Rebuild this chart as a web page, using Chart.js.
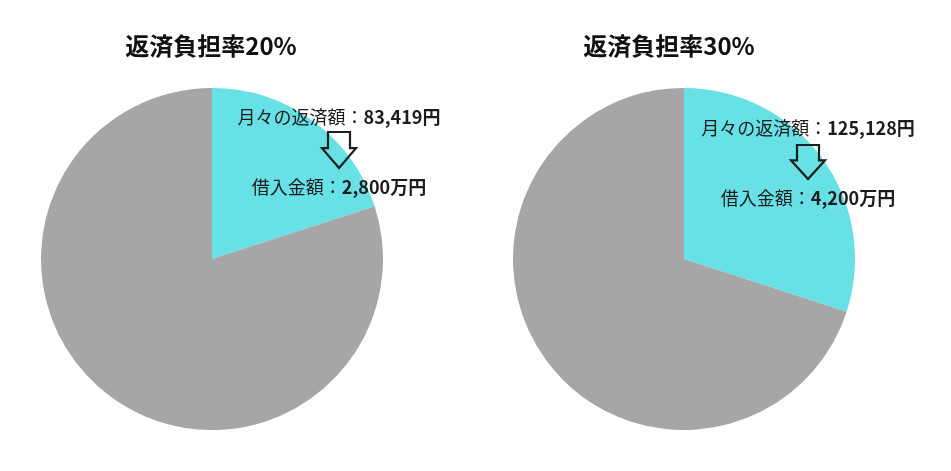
<!DOCTYPE html>
<html lang="ja">
<head>
<meta charset="utf-8">
<title>返済負担率</title>
<script src="https://cdn.jsdelivr.net/npm/chart.js@4.4.1/dist/chart.umd.min.js"></script>
<style>
  html, body { margin: 0; padding: 0; background: #fff; }
  #wrap { position: relative; width: 951px; height: 471px; }
  .box { position: absolute; top: 0; height: 471px; }
  #box1 { left: 0; width: 475px; }
  #box2 { left: 475px; width: 476px; }
</style>
</head>
<body>
<div id="wrap">
  <div class="box" id="box1"><canvas id="pie1"></canvas></div>
  <div class="box" id="box2"><canvas id="pie2"></canvas></div>
</div>
<script>
// data
const sliceLabels = ['返済額', 'その他'];
const titles = ['返済負担率20%', '返済負担率30%'];
const shares20 = [20, 80];
const shares30 = [30, 70];
const monthlyPayments = ['83,419', '125,128'];
const loanAmounts = ['2,800', '4,200'];

const FONT = '"Noto Sans CJK JP", "Noto Sans", sans-serif';
const colors = ['#67e1e6', '#a6a6a6'];

// draws a line made of [text, bold] parts, centred on x
function drawParts(ctx, parts, x, y, size) {
  let total = 0;
  parts.forEach(p => {
    ctx.font = (p[1] ? 'bold ' : '') + size + 'px ' + FONT;
    total += ctx.measureText(p[0]).width;
  });
  let cx = x - total / 2;
  parts.forEach(p => {
    ctx.font = (p[1] ? 'bold ' : '') + size + 'px ' + FONT;
    ctx.fillText(p[0], cx, y);
    cx += ctx.measureText(p[0]).width;
  });
}

const notesPlugin = {
  id: 'notes',
  afterDraw(chart, args, opts) {
    const ctx = chart.ctx;
    const a = chart.chartArea;
    const cx = (a.left + a.right) / 2;
    const cy = (a.top + a.bottom) / 2;
    ctx.save();
    ctx.textBaseline = 'middle';
    ctx.textAlign = 'left';
    ctx.fillStyle = '#111';
    // title
    ctx.font = 'bold 24px ' + FONT;
    const tw = ctx.measureText(opts.title).width;
    ctx.fillText(opts.title, opts.titleX - tw / 2, 46);

    ctx.fillStyle = '#1c1c1c';
    const nx = cx + opts.dx;
    drawParts(ctx, [['月々の返済額：', false], [opts.monthly + '円', true]], nx, cy + opts.y1, 18);
    drawParts(ctx, [['借入金額：', false], [opts.loan + '万円', true]], nx, cy + opts.y2, 18);

    // hollow down arrow
    const top = cy + opts.arrowTop, tip = cy + opts.arrowTip;
    const neck = top + (tip - top) * 0.45;
    ctx.beginPath();
    ctx.moveTo(nx - 11, top);
    ctx.lineTo(nx + 11, top);
    ctx.lineTo(nx + 11, neck);
    ctx.lineTo(nx + 17, neck);
    ctx.lineTo(nx, tip);
    ctx.lineTo(nx - 17, neck);
    ctx.lineTo(nx - 11, neck);
    ctx.closePath();
    ctx.lineWidth = 2.2;
    ctx.lineJoin = 'miter';
    ctx.strokeStyle = '#1a1f1f';
    ctx.stroke();
    ctx.restore();
  }
};

function makePie(id, values, pad, notes) {
  return new Chart(document.getElementById(id), {
    type: 'pie',
    data: {
      labels: sliceLabels,
      datasets: [{
        data: values,
        backgroundColor: colors,
        borderWidth: 0
      }]
    },
    options: {
      responsive: true,
      maintainAspectRatio: false,
      animation: false,
      layout: { padding: pad },
      plugins: {
        legend: { display: false },
        tooltip: { enabled: false },
        notes: notes
      }
    },
    plugins: [notesPlugin]
  });
}

makePie('pie1', shares20, { left: 41, right: 92, top: 88, bottom: 41 }, {
  title: titles[0], titleX: 211,
  monthly: monthlyPayments[0], loan: loanAmounts[0],
  dx: 127, y1: -142, y2: -72, arrowTop: -127, arrowTip: -91
});
makePie('pie2', shares30, { left: 38, right: 96, top: 88, bottom: 41 }, {
  title: titles[1], titleX: 194,
  monthly: monthlyPayments[1], loan: loanAmounts[1],
  dx: 124, y1: -131, y2: -61, arrowTop: -114, arrowTip: -80
});
</script>
</body>
</html>
